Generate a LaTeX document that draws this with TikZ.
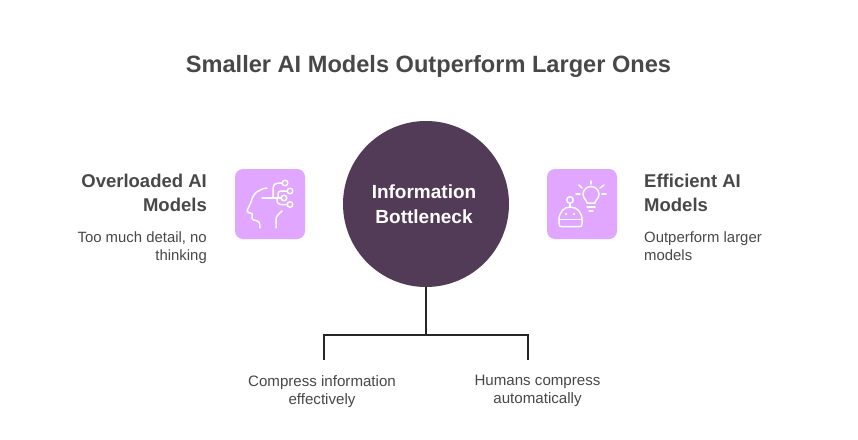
\documentclass[tikz,border=0pt]{standalone}
\usepackage{fontspec}
\setmainfont{Liberation Sans}
\definecolor{ink}{HTML}{484848}
\definecolor{plum}{HTML}{523B56}
\definecolor{lilac}{HTML}{E1A6FF}
\tikzset{
  x=1pt,y=-1pt,
  titletext/.style={font=\fontsize{23.6}{29}\selectfont\bfseries,text=ink},
  headr/.style={font=\fontsize{18.5}{24}\selectfont\bfseries,text=ink,align=right,anchor=north east,inner sep=0pt},
  headl/.style={font=\fontsize{18.5}{24}\selectfont\bfseries,text=ink,align=left,anchor=north west,inner sep=0pt},
  bodyr/.style={font=\fontsize{14.9}{18}\selectfont,text=ink,align=right,anchor=north east,inner sep=0pt},
  bodyl/.style={font=\fontsize{14.9}{18}\selectfont,text=ink,align=left,anchor=north west,inner sep=0pt},
  bodyc/.style={font=\fontsize{15.1}{18}\selectfont,text=ink,align=center,anchor=north,inner sep=0pt},
  iconbox/.style={fill=lilac,rounded corners=8pt,minimum width=70pt,minimum height=70pt,inner sep=0pt},
  hub/.style={circle,fill=plum,minimum size=166pt,inner sep=0pt},
  hubtext/.style={inner sep=0pt,font=\fontsize{19}{24.5}\selectfont\bfseries,text=white,align=center},
  wire/.style={draw=black!85,line width=1.5pt},
  glyph/.style={draw=white,line width=1.5pt,line cap=round,line join=round},
}
\begin{document}
\begin{tikzpicture}
\useasboundingbox (0,0) rectangle (858,439);
\fill[white] (0,0) rectangle (858,439);
\node[titletext] (title) at (428.5,66) {Smaller AI Models Outperform Larger Ones};
\node[hub] (hub) at (426,204) {};
\node[hubtext] (hubt) at (424,204) {Information\\Bottleneck};
\node[iconbox] (boxl) at (270,204) {};
\node[iconbox] (boxr) at (582,204) {};
\node[headr] (hl) at (207,174) {Overloaded AI\\Models};
\node[bodyr] (bl) at (207,231) {Too much detail, no\\thinking};
\node[headl] (hr) at (644,174) {Efficient AI\\Models};
\node[bodyl] (br) at (644,231) {Outperform larger\\models};
\node[bodyc] (cl) at (322,375) {Compress information\\effectively};
\node[bodyc] (cr) at (537.5,375) {Humans compress\\automatically};
\coordinate (jl) at (324,360);
\coordinate (jr) at (528,360);
\draw[wire] (hub.south) -- (426,335);
\draw[wire] (jl) -- (324,335) -- (528,335) -- (jr);
% head icon
\begin{scope}[glyph]
\draw (267,188) .. controls (259,189) and (253,193) .. (251,202) -- (247,211) .. controls (247,213) and (250,213) .. (252,213.5) -- (252,218) .. controls (252,220) and (254,220.5) .. (256,220.5) .. controls (259,221) and (260,222) .. (260,228);
\draw (276,228) -- (276,219) .. controls (276,216) and (279,214) .. (282,211);
\draw (262,198) -- (281,198);
\draw (273,198) -- (273,188) .. controls (273,185) and (275,183) .. (278,183) -- (282,183);
\draw (278,198) -- (278,194) .. controls (278,192) and (279,191) .. (281,191) -- (287,191);
\draw (277,198) -- (277,201) .. controls (277,203) and (279,204.5) .. (281,204.5) -- (287,204.5);
\draw (285,183) circle (2.8);
\draw (290,191) circle (2.8);
\draw (284,198) circle (2.8);
\draw (290,204.5) circle (2.8);
\end{scope}
% robot and bulb icon
\begin{scope}[glyph]
\draw (570,200) circle (3.3);
\draw (570,203.3) -- (570,207);
\draw (559,220) .. controls (559,212) and (564,207) .. (570,207) .. controls (577,207) and (582,212) .. (582,220);
\draw (559,219.5) -- (582,219.5);
\draw (559,219.5) -- (559,224) .. controls (559,226) and (560,226.7) .. (562,226.7) -- (579,226.7) .. controls (581,226.7) and (582,226) .. (582,224) -- (582,219.5);
\fill[white,draw=none] (566,214) circle (1.3);
\fill[white,draw=none] (574,214) circle (1.3);
\draw (587,203) .. controls (587,200) and (583,199) .. (583,194) .. controls (583,190) and (587,186.5) .. (591,186.5) .. controls (595,186.5) and (599,190) .. (599,194) .. controls (599,199) and (595,200) .. (595,203) -- cycle;
\draw (587,207) -- (595,207);
\draw (589,211) -- (593,211);
\draw (591,181) -- (591,184);
\draw (579,185) -- (582,188);
\draw (604,185) -- (600,188);
\draw (576,194) -- (580,194);
\draw (602,194) -- (606,194);
\end{scope}
\end{tikzpicture}
\end{document}
